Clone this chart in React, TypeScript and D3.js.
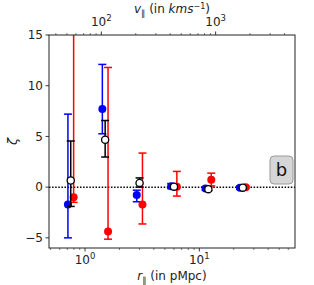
import React from 'react'
import * as d3 from 'd3'

// bin centres along the line of sight (pMpc)
const rBins = [0.75, 1.5, 3, 6, 12, 24]

const blueVals = [-1.7, 7.7, -0.78, 0.1, -0.13, -0.05]
const blueLo = [-5.0, 5.26, -1.44, -0.15, -0.3, -0.2]
const blueHi = [7.2, 12.1, -0.3, 0.35, 0.05, 0.1]

const redVals = [-1.0, -4.38, -1.7, 0.05, 0.72, 0.0]
const redLo = [-1.5, -5.13, -3.63, -0.88, 0.12, -0.12]
const redHi = [22, 11.8, 3.36, 1.55, 1.38, 0.1]

const blackVals = [0.65, 4.67, 0.42, 0.05, -0.2, -0.05]
const blackLo = [-1.9, 2.97, 0.0, -0.15, -0.35, -0.15]
const blackHi = [4.55, 6.57, 0.91, 0.25, 0.0, 0.05]

const yTicks = [-5, 0, 5, 10, 15]
const H = 72 // km/s per pMpc used for the top axis

const W = 314
const Ht = 285
const m = { left: 49, right: 295, top: 35, bottom: 248 }
const font = 'DejaVu Sans, sans-serif'

const x = d3.scaleLog().domain([0.484, 68.7]).range([m.left, m.right])
const y = d3.scaleLinear().domain([-6, 15]).range([m.bottom, m.top])
const xv = d3.scaleLog().domain([0.484 * H, 68.7 * H]).range([m.left, m.right])

const series = [
  { vals: blueVals, lo: blueLo, hi: blueHi, color: '#0000ff', fill: '#0000ff', shift: 0.945 },
  { vals: redVals, lo: redLo, hi: redHi, color: '#ff0000', fill: '#ff0000', shift: 1.06 },
  { vals: blackVals, lo: blackLo, hi: blackHi, color: '#000000', fill: '#ffffff', shift: 1.0 },
]

const logTicks = (scale: d3.ScaleLogarithmic<number, number>) => {
  const [a, b] = scale.domain()
  const out: { v: number; major: boolean }[] = []
  for (let e = Math.floor(Math.log10(a)); e <= Math.ceil(Math.log10(b)); e++) {
    for (let k = 1; k < 10; k++) {
      const v = k * Math.pow(10, e)
      if (v >= a && v <= b) out.push({ v, major: k === 1 })
    }
  }
  return out
}

const Pow = ({ cx, cy, e }: { cx: number; cy: number; e: number }) => (
  <text x={cx} y={cy} textAnchor="middle" fontSize={12} fontFamily={font} fill="#222">
    10<tspan dy={-5} fontSize={8.5}>{e}</tspan>
  </text>
)

export default function App() {
  const cap = 4
  return (
    <svg width={W} height={Ht} style={{ position: 'absolute', left: 0, top: 0 }}>
      <rect width={W} height={Ht} fill="#fff" />
      <defs>
        <clipPath id="plot">
          <rect x={m.left} y={m.top} width={m.right - m.left} height={m.bottom - m.top} />
        </clipPath>
      </defs>

      <line x1={m.left} x2={m.right} y1={y(0)} y2={y(0)} stroke="#000" strokeWidth={1.5} strokeDasharray="1.5,1.6" />

      <g clipPath="url(#plot)">
        {series.map((s, si) =>
          rBins.map((r, i) => {
            const px = x(r * s.shift)
            return (
              <g key={`${si}-${i}`}>
                <line x1={px} x2={px} y1={y(s.lo[i])} y2={y(s.hi[i])} stroke={s.color} strokeWidth={1.5} />
                <line x1={px - cap} x2={px + cap} y1={y(s.lo[i])} y2={y(s.lo[i])} stroke={s.color} strokeWidth={1.5} />
                <line x1={px - cap} x2={px + cap} y1={y(s.hi[i])} y2={y(s.hi[i])} stroke={s.color} strokeWidth={1.5} />
                <circle cx={px} cy={y(s.vals[i])} r={si === 2 ? 3.6 : 4} fill={s.fill} stroke={s.color} strokeWidth={si === 2 ? 1.3 : 0} />
              </g>
            )
          })
        )}
      </g>

      {/* frame */}
      <rect x={m.left} y={m.top} width={m.right - m.left} height={m.bottom - m.top} fill="none" stroke="#222" strokeWidth={1} />

      {/* bottom axis */}
      {logTicks(x).map((t) => (
        <line key={`b${t.v}`} x1={x(t.v)} x2={x(t.v)} y1={m.bottom} y2={m.bottom + (t.major ? 3.5 : 2)} stroke="#222" strokeWidth={t.major ? 0.9 : 0.6} />
      ))}
      <Pow cx={x(1)} cy={264} e={0} />
      <Pow cx={x(10)} cy={264} e={1} />

      {/* top axis */}
      {logTicks(xv).map((t) => (
        <line key={`t${t.v}`} x1={xv(t.v)} x2={xv(t.v)} y1={m.top} y2={m.top - (t.major ? 3.5 : 2)} stroke="#222" strokeWidth={t.major ? 0.9 : 0.6} />
      ))}
      <Pow cx={xv(100)} cy={26} e={2} />
      <Pow cx={xv(1000)} cy={26} e={3} />

      {/* left axis */}
      {yTicks.map((t) => (
        <g key={`y${t}`}>
          <line x1={m.left - 3.5} x2={m.left} y1={y(t)} y2={y(t)} stroke="#222" strokeWidth={0.9} />
          <text x={m.left - 6} y={y(t) + 4.3} textAnchor="end" fontSize={12} fontFamily={font} fill="#222">
            {t < 0 ? `\u2212${-t}` : t}
          </text>
        </g>
      ))}

      {/* labels */}
      <text transform={`translate(17,${(m.top + m.bottom) / 2}) rotate(-90)`} textAnchor="middle" fontSize={13} fontFamily={font} fontStyle="italic" fill="#222">
        ζ
      </text>
      <text x={(m.left + m.right) / 2} y={280} textAnchor="middle" fontSize={12} fontFamily={font} fill="#222">
        <tspan fontStyle="italic">r</tspan>
        <tspan fontSize={8.5} dy={3}>∥</tspan>
        <tspan dy={-3}> (in pMpc)</tspan>
      </text>
      <text x={(m.left + m.right) / 2} y={13} textAnchor="middle" fontSize={12} fontFamily={font} fill="#222">
        <tspan fontStyle="italic">v</tspan>
        <tspan fontSize={8.5} dy={3}>∥</tspan>
        <tspan dy={-3}> (in </tspan>
        <tspan fontStyle="italic">kms</tspan>
        <tspan fontSize={8} dy={-4}>−1</tspan>
        <tspan dy={4}>)</tspan>
      </text>

      {/* panel tag */}
      <rect x={270} y={156} width={23} height={28} rx={4} fill="#d6d6d6" stroke="#9a9a9a" strokeWidth={1} />
      <text x={281.5} y={176} textAnchor="middle" fontSize={18} fontFamily={font} fill="#111">
        b
      </text>
    </svg>
  )
}
